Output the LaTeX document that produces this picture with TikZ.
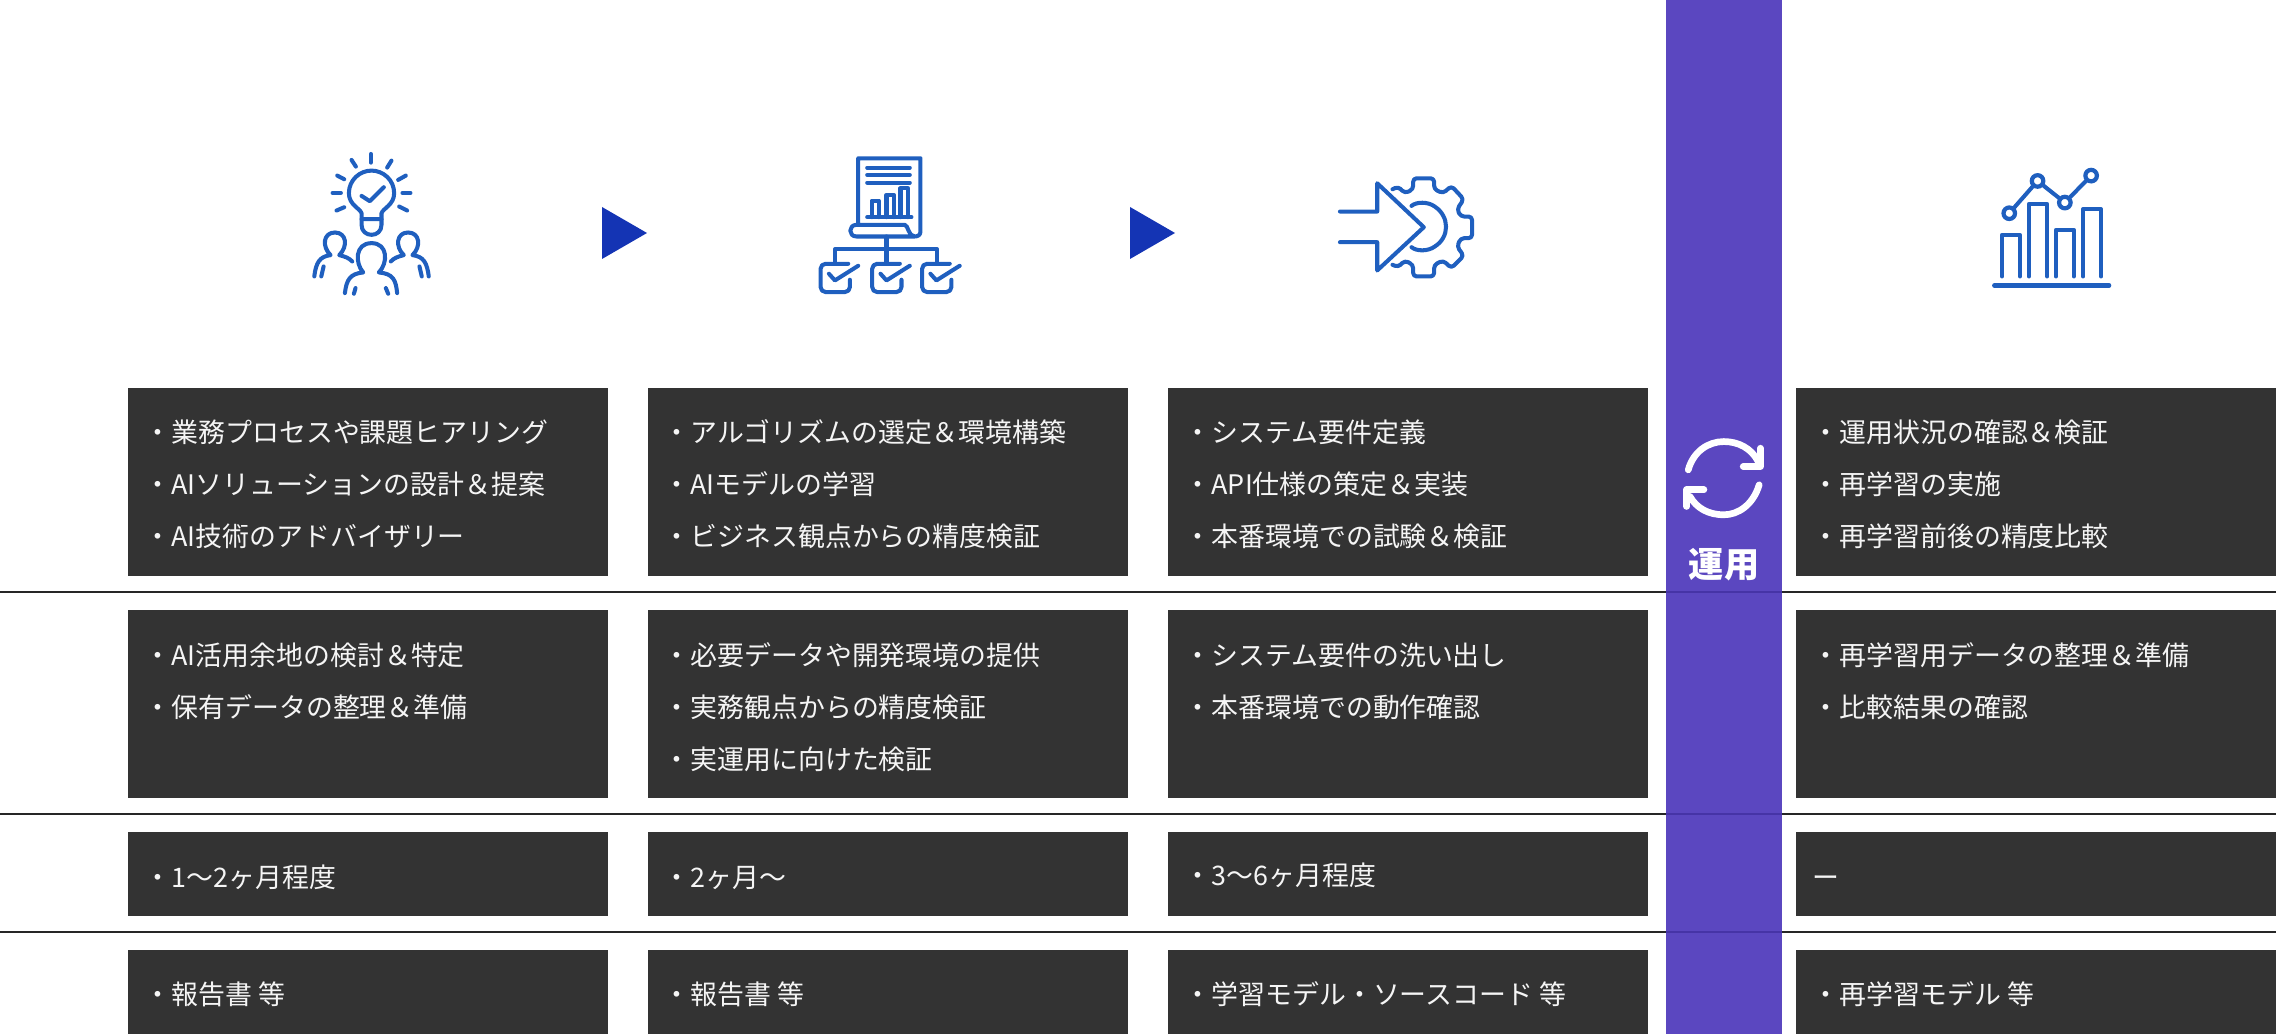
\documentclass[tikz,border=0pt]{standalone}
\usepackage{fontspec}
\usepackage{xcolor}
\setmainfont{Noto Sans CJK JP}
\usepackage{tikz}
\usetikzlibrary{positioning}
\definecolor{cellgray}{HTML}{333333}
\definecolor{opspurple}{HTML}{5B47C0}
\definecolor{opsline}{HTML}{4634A6}
\definecolor{iconblue}{HTML}{1F5FBF}
\definecolor{triblue}{HTML}{1434B4}
\tikzset{
  cell/.style={fill=cellgray},
  item/.style={anchor=west,inner sep=0pt,xshift=-0.01cm,yshift=-0.04cm,text=white!96!black,font=\fontsize{7.65pt}{9pt}\selectfont,text height=0.2cm,text depth=0.06cm},
  icon/.style={draw=iconblue,line width=1.15pt,line cap=round,line join=round},
  raw/.style={x=0.003333cm,y=-0.003333cm},
  dot/.style={circle,draw=iconblue,line width=1.2pt,fill=white,minimum size=0.115cm,inner sep=0pt},
  tri/.style={fill=triblue},
  rowline/.style={draw=black!85,line width=0.6pt},
  loopline/.style={draw=white,line width=1.9pt,line cap=round,line join=round}
}
\begin{document}
\begin{tikzpicture}[x=0.01cm,y=-0.01cm]
\useasboundingbox (0,0) rectangle (2276,1034);
% row lines
\foreach \y in {592,814,932} {
\draw[rowline] (0,\y) -- (2276,\y);
}
% cells
\foreach \xa/\xb in {128/608,648/1128,1168/1648,1796/2276} {
\fill[cell] (\xa,388) rectangle (\xb,576);
\fill[cell] (\xa,610) rectangle (\xb,798);
\fill[cell] (\xa,832) rectangle (\xb,916);
\fill[cell] (\xa,950) rectangle (\xb,1034);
}
% operation band
\fill[opspurple] (1666,0) rectangle (1782,1034);
\foreach \y in {592,814,932} {
\draw[opsline,line width=0.6pt] (1666,\y) -- (1782,\y);
}
\begin{scope}[shift={(1640,380)},raw]
\draw[loopline] (145,270) .. controls (160,215) and (205,185) .. (252,185) .. controls (295,185) and (335,205) .. (355,245);
\draw[loopline] (362,205) -- (362,260) -- (310,260);
\draw[loopline] (358,315) .. controls (340,375) and (295,405) .. (252,405) .. controls (205,405) and (170,385) .. (150,350);
\draw[loopline] (140,380) -- (140,330) -- (192,330);
\end{scope}
\node[text=white,font=\fontsize{10pt}{11pt}\selectfont\bfseries] (opslabel) at (1724,565) {運用};
% triangles
\fill[tri] (602,207) -- (647,233) -- (602,259) -- cycle;
\fill[tri] (1130,207) -- (1175,233) -- (1130,259) -- cycle;
% hearing icon
\begin{scope}[shift={(280,130)},raw]
\draw[icon] (245,268) -- (245,250) .. controls (240,235) and (207,225) .. (207,190) .. controls (207,150) and (240,122) .. (275,122) .. controls (310,122) and (343,150) .. (343,190) .. controls (343,225) and (310,235) .. (305,250) -- (305,268) -- cycle;
\draw[icon] (245,268) -- (245,285) .. controls (245,305) and (260,315) .. (275,315) .. controls (290,315) and (305,305) .. (305,285) -- (305,268);
\draw[icon] (245,198) -- (270,214) -- (312,172);
\foreach \xa/\ya/\xb/\yb in {273/72/273/98,215/90/228/110,335/92/322/113,172/137/193/148,378/137/355/150,158/189/183/189,368/189/392/189,170/242/193/232,358/230/382/242} {
\draw[icon] (\xa,\ya) -- (\xb,\yb);
}
\draw[icon] (195,490) .. controls (200,450) and (210,432) .. (250,428) .. controls (225,400) and (225,340) .. (275,340) .. controls (325,340) and (325,400) .. (297,428) .. controls (340,432) and (348,450) .. (352,490);
\draw[icon] (227,475) -- (222,492);
\draw[icon] (318,475) -- (325,492);
\draw[icon] (103,440) .. controls (108,400) and (118,380) .. (152,376) .. controls (125,350) and (130,308) .. (165,308) .. controls (200,308) and (205,350) .. (178,376) .. controls (195,380) and (208,385) .. (217,395);
\draw[icon] (131,410) -- (124,440);
\draw[icon] (447,440) .. controls (442,400) and (432,380) .. (398,376) .. controls (425,350) and (420,308) .. (385,308) .. controls (350,308) and (345,350) .. (372,376) .. controls (355,380) and (342,385) .. (333,395);
\draw[icon] (419,410) -- (426,440);
\end{scope}
% report icon
\begin{scope}[shift={(780,130)},raw]
\draw[icon] (235,285) -- (235,85) -- (422,85) -- (422,305) .. controls (422,315) and (415,320) .. (405,320) -- (230,320) .. controls (205,320) and (205,285) .. (230,285) -- (375,285) .. controls (385,285) and (385,320) .. (405,320);
\foreach \y in {113,135,158} {
\draw[icon] (262,\y) -- (390,\y);
}
\draw[icon] (262,262) -- (395,262);
\draw[icon] (275,262) -- (275,212) -- (297,212) -- (297,262);
\draw[icon] (320,262) -- (320,195) -- (342,195) -- (342,262);
\draw[icon] (362,262) -- (362,175) -- (384,175) -- (384,262);
\draw[icon] (320,320) -- (320,400);
\draw[icon] (165,398) -- (165,358) -- (472,358) -- (472,398);
\foreach \dx in {0,155,305} {
\draw[icon,rounded corners=0.05cm] (\dx+205,402) -- (\dx+122,402) -- (\dx+122,487) -- (\dx+210,487) -- (\dx+210,450);
\draw[icon] (\dx+147,432) -- (\dx+165,452) -- (\dx+235,408);
}
\end{scope}
% gear icon
\begin{scope}[shift={(1300,150)},raw]
\draw[icon] (120,185) -- (232,185) -- (232,100) -- (372,232) -- (232,362) -- (232,277) -- (120,277);
\draw[icon] (335,168) .. controls (350,155) and (385,155) .. (405,170) .. controls (450,200) and (450,262) .. (405,290) .. controls (385,305) and (350,305) .. (335,292);
\draw[icon,rounded corners=0.035cm] (278,118) -- (295,110) -- (315,130) -- (340,118) -- (340,85) -- (403,85) -- (403,118) -- (430,130) -- (455,108) -- (492,148) -- (472,178) -- (483,200) -- (517,200) -- (517,265) -- (483,265) -- (472,290) -- (492,318) -- (455,355) -- (430,332) -- (403,345) -- (403,380) -- (340,380) -- (340,345) -- (315,332) -- (295,352) -- (278,345);
\end{scope}
% chart icon
\begin{scope}[shift={(1960,150)},raw]
\draw[icon,line width=1.25pt] (103,407) -- (448,407);
\draw[icon] (126,380) -- (126,255) -- (180,255) -- (180,380);
\draw[icon] (207,380) -- (207,162) -- (262,162) -- (262,380);
\draw[icon] (288,380) -- (288,240) -- (342,240) -- (342,380);
\draw[icon] (370,380) -- (370,178) -- (424,178) -- (424,380);
\node[dot] (p1) at (148,190) {};
\node[dot] (p2) at (233,93) {};
\node[dot] (p3) at (315,158) {};
\node[dot] (p4) at (394,77) {};
\draw[icon] (p1) -- (p2);
\draw[icon] (p2) -- (p3);
\draw[icon] (p3) -- (p4);
\end{scope}
% first column
\node[item] (a1) at (145,431) {・業務プロセスや課題ヒアリング};
\node[item] (a2) at (145,483) {・AIソリューションの設計＆提案};
\node[item] (a3) at (145,535) {・AI技術のアドバイザリー};
\node[item] (a4) at (145,654) {・AI活用余地の検討＆特定};
\node[item] (a5) at (145,706) {・保有データの整理＆準備};
\node[item] (a6) at (145,876) {・1〜2ヶ月程度};
\node[item] (a7) at (145,993) {・報告書 等};
% second column
\node[item] (b1) at (664,431) {・アルゴリズムの選定＆環境構築};
\node[item] (b2) at (664,483) {・AIモデルの学習};
\node[item] (b3) at (664,535) {・ビジネス観点からの精度検証};
\node[item] (b4) at (664,654) {・必要データや開発環境の提供};
\node[item] (b5) at (664,706) {・実務観点からの精度検証};
\node[item] (b6) at (664,758) {・実運用に向けた検証};
\node[item] (b7) at (664,876) {・2ヶ月〜};
\node[item] (b8) at (664,993) {・報告書 等};
% third column
\node[item] (c1) at (1185,431) {・システム要件定義};
\node[item] (c2) at (1185,483) {・API仕様の策定＆実装};
\node[item] (c3) at (1185,535) {・本番環境での試験＆検証};
\node[item] (c4) at (1185,654) {・システム要件の洗い出し};
\node[item] (c5) at (1185,706) {・本番環境での動作確認};
\node[item] (c6) at (1185,874) {・3〜6ヶ月程度};
\node[item] (c7) at (1185,993) {・学習モデル・ソースコード 等};
% fourth column
\node[item] (d1) at (1813,431) {・運用状況の確認＆検証};
\node[item] (d2) at (1813,483) {・再学習の実施};
\node[item] (d3) at (1813,535) {・再学習前後の精度比較};
\node[item] (d4) at (1813,654) {・再学習用データの整理＆準備};
\node[item] (d5) at (1813,706) {・比較結果の確認};
\node[item] (d6) at (1813,876) {ー};
\node[item] (d7) at (1813,993) {・再学習モデル 等};
\end{tikzpicture}
\end{document}
